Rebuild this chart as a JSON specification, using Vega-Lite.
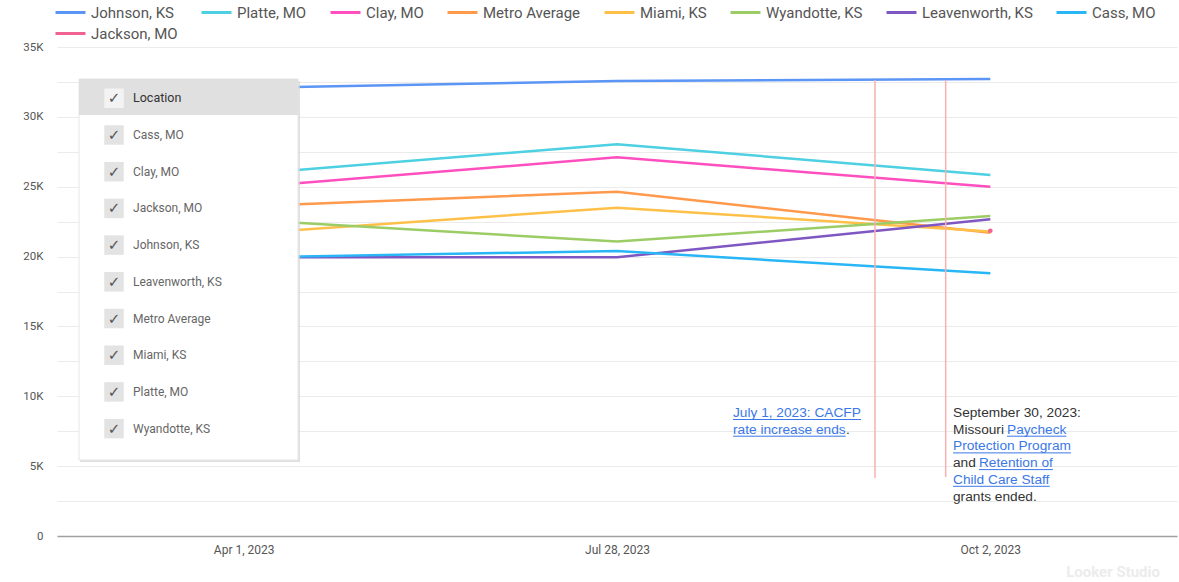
{
  "$schema": "https://vega.github.io/schema/vega-lite/v6.json",
  "width": 1120,
  "height": 489,
  "autosize": "none",
  "padding": {"left": 57, "top": 47, "right": 2, "bottom": 46},
  "background": "white",
  "config": {"view": {"stroke": null}, "font": "Roboto"},
  "datasets": {
    "series": [
      {"loc": "Johnson, KS", "date": "Apr 1, 2023", "v": 32070},
      {"loc": "Johnson, KS", "date": "Jul 28, 2023", "v": 32570},
      {"loc": "Johnson, KS", "date": "Oct 2, 2023", "v": 32710},
      {"loc": "Platte, MO", "date": "Apr 1, 2023", "v": 25890},
      {"loc": "Platte, MO", "date": "Jul 28, 2023", "v": 28040},
      {"loc": "Platte, MO", "date": "Oct 2, 2023", "v": 25840},
      {"loc": "Clay, MO", "date": "Apr 1, 2023", "v": 24930},
      {"loc": "Clay, MO", "date": "Jul 28, 2023", "v": 27100},
      {"loc": "Clay, MO", "date": "Oct 2, 2023", "v": 25000},
      {"loc": "Metro Average", "date": "Apr 1, 2023", "v": 23590},
      {"loc": "Metro Average", "date": "Jul 28, 2023", "v": 24640},
      {"loc": "Metro Average", "date": "Oct 2, 2023", "v": 21700},
      {"loc": "Miami, KS", "date": "Apr 1, 2023", "v": 21630},
      {"loc": "Miami, KS", "date": "Jul 28, 2023", "v": 23500},
      {"loc": "Miami, KS", "date": "Oct 2, 2023", "v": 21800},
      {"loc": "Wyandotte, KS", "date": "Apr 1, 2023", "v": 22650},
      {"loc": "Wyandotte, KS", "date": "Jul 28, 2023", "v": 21070},
      {"loc": "Wyandotte, KS", "date": "Oct 2, 2023", "v": 22900},
      {"loc": "Leavenworth, KS", "date": "Apr 1, 2023", "v": 19950},
      {"loc": "Leavenworth, KS", "date": "Jul 28, 2023", "v": 19950},
      {"loc": "Leavenworth, KS", "date": "Oct 2, 2023", "v": 22670},
      {"loc": "Cass, MO", "date": "Apr 1, 2023", "v": 19930},
      {"loc": "Cass, MO", "date": "Jul 28, 2023", "v": 20400},
      {"loc": "Cass, MO", "date": "Oct 2, 2023", "v": 18800},
      {"loc": "Jackson, MO", "date": "Oct 2, 2023", "v": 21850}
    ],
    "items": [
      {"item": "Location"},
      {"item": "Cass, MO"},
      {"item": "Clay, MO"},
      {"item": "Jackson, MO"},
      {"item": "Johnson, KS"},
      {"item": "Leavenworth, KS"},
      {"item": "Metro Average"},
      {"item": "Miami, KS"},
      {"item": "Platte, MO"},
      {"item": "Wyandotte, KS"}
    ],
    "notes": [
      {"note": "jul", "seg": "a", "line": 0, "text": "July 1, 2023: CACFP", "kind": "link"},
      {"note": "jul", "seg": "a", "line": 1, "text": "rate increase ends", "kind": "link"},
      {"note": "jul", "seg": "b", "line": 1, "text": ".", "kind": "plain"},
      {"note": "sep", "seg": "a", "line": 0, "text": "September 30, 2023:", "kind": "plain"},
      {"note": "sep", "seg": "a", "line": 1, "text": "Missouri", "kind": "plain"},
      {"note": "sep", "seg": "b", "line": 1, "text": "Paycheck", "kind": "link"},
      {"note": "sep", "seg": "a", "line": 2, "text": "Protection Program", "kind": "link"},
      {"note": "sep", "seg": "a", "line": 3, "text": "and", "kind": "plain"},
      {"note": "sep", "seg": "c", "line": 3, "text": "Retention of", "kind": "link"},
      {"note": "sep", "seg": "a", "line": 4, "text": "Child Care Staff", "kind": "link"},
      {"note": "sep", "seg": "a", "line": 5, "text": "grants ended.", "kind": "plain"}
    ]
  },
  "layer": [
    {
      "data": {"name": "series"},
      "mark": {"type": "line", "strokeWidth": 2.5},
      "encoding": {
        "x": {"field": "date", "type": "ordinal", "sort": ["Apr 1, 2023", "Jul 28, 2023", "Oct 2, 2023"],
              "scale": {"type": "point", "padding": 0.5},
              "axis": {"title": null, "labelAngle": 0, "ticks": false, "grid": false, "domainColor": "#a0a0a0", "domainWidth": 1.5, "labelFontSize": 12, "labelColor": "#555555", "labelPadding": 8}},
        "y": {"field": "v", "type": "quantitative", "scale": {"domain": [0, 35000], "nice": false},
              "axis": {"title": null, "values": [0, 2500, 5000, 7500, 10000, 12500, 15000, 17500, 20000, 22500, 25000, 27500, 30000, 32500, 35000],
                       "labelExpr": "datum.value % 5000 === 0 ? (datum.value === 0 ? '0' : (datum.value / 1000) + 'K') : ''",
                       "ticks": false, "domain": false, "gridColor": "#ebebeb", "labelFontSize": 11.5, "labelColor": "#555555", "labelPadding": 14}},
        "color": {"field": "loc", "type": "nominal",
                  "scale": {"domain": ["Johnson, KS", "Platte, MO", "Clay, MO", "Metro Average", "Miami, KS", "Wyandotte, KS", "Leavenworth, KS", "Cass, MO", "Jackson, MO"],
                            "range": ["#5b95f5", "#4dd0e1", "#ff4fbf", "#ff9a4d", "#ffc04a", "#9ccc65", "#7e57c2", "#29b6f6", "#f06292"]},
                  "legend": {"orient": "none", "legendX": -3, "legendY": -51, "direction": "horizontal", "columns": 8, "gridAlign": "none",
                             "title": null, "symbolType": "stroke", "symbolSize": 900, "symbolStrokeWidth": 3,
                             "labelFontSize": 15, "labelColor": "#555555", "columnPadding": 17, "rowPadding": -4, "labelOffset": 4}}
      }
    },
    {
      "data": {"name": "series"},
      "transform": [{"filter": "datum.loc === 'Jackson, MO'"}],
      "mark": {"type": "circle", "size": 22, "opacity": 1},
      "encoding": {
        "x": {"field": "date", "type": "ordinal", "sort": ["Apr 1, 2023", "Jul 28, 2023", "Oct 2, 2023"], "scale": {"type": "point", "padding": 0.5, "domain": ["Apr 1, 2023", "Jul 28, 2023", "Oct 2, 2023"]}, "axis": null},
        "y": {"field": "v", "type": "quantitative", "scale": {"domain": [0, 35000], "nice": false}, "axis": null},
        "color": {"field": "loc", "type": "nominal", "scale": {"domain": ["Jackson, MO"], "range": ["#f06292"]}, "legend": null}
      }
    },
    {
      "data": {"values": [{}]},
      "mark": {"type": "rect", "fill": "#d4d4d4", "opacity": 0.7},
      "encoding": {
        "x": {"datum": 0.0616, "type": "quantitative", "scale": {"domain": [0, 3], "nice": false, "zero": false}, "axis": null},
        "x2": {"datum": 0.6510},
        "y": {"datum": 32567, "type": "quantitative", "scale": {"domain": [0, 35000], "nice": false}, "axis": null},
        "y2": {"datum": 5297}
      }
    },
    {
      "data": {"values": [{}]},
      "mark": {"type": "rect", "fill": "#ffffff", "stroke": "#e6e6e6", "strokeWidth": 1},
      "encoding": {
        "x": {"datum": 0.059, "type": "quantitative", "scale": {"domain": [0, 3], "nice": false, "zero": false}, "axis": null},
        "x2": {"datum": 0.6456},
        "y": {"datum": 32710, "type": "quantitative", "scale": {"domain": [0, 35000], "nice": false}, "axis": null},
        "y2": {"datum": 5440}
      }
    },
    {
      "data": {"values": [{}]},
      "mark": {"type": "rect", "fill": "#e0e0e0"},
      "encoding": {
        "x": {"datum": 0.059, "type": "quantitative", "scale": {"domain": [0, 3], "nice": false, "zero": false}, "axis": null},
        "x2": {"datum": 0.6456},
        "y": {"datum": 32710, "type": "quantitative", "scale": {"domain": [0, 35000], "nice": false}, "axis": null},
        "y2": {"datum": 30133}
      }
    },
    {
      "data": {"name": "items"},
      "transform": [{"window": [{"op": "row_number", "as": "r"}]}],
      "mark": {"type": "point", "shape": "square", "filled": true, "size": 380, "strokeWidth": 0, "opacity": 1},
      "encoding": {
        "x": {"datum": 0.1527, "type": "quantitative", "scale": {"domain": [0, 3], "nice": false, "zero": false}, "axis": null},
        "y": {"field": "r", "type": "quantitative", "scale": {"domain": [-0.398, 12.926], "reverse": true, "nice": false, "zero": false}, "axis": null},
        "color": {"condition": {"test": "datum.r === 1", "value": "#f3f3f3"}, "value": "#e3e3e3"}
      }
    },
    {
      "data": {"name": "items"},
      "transform": [{"window": [{"op": "row_number", "as": "r"}]}],
      "mark": {"type": "text", "align": "center", "baseline": "middle", "font": "DejaVu Sans", "fontSize": 15},
      "encoding": {
        "x": {"datum": 0.1527, "type": "quantitative", "scale": {"domain": [0, 3], "nice": false, "zero": false}, "axis": null},
        "y": {"field": "r", "type": "quantitative", "scale": {"domain": [-0.398, 12.926], "reverse": true, "nice": false, "zero": false}, "axis": null},
        "text": {"value": "✓"},
        "color": {"value": "#555555"}
      }
    },
    {
      "data": {"name": "items"},
      "transform": [{"window": [{"op": "row_number", "as": "r"}]}],
      "mark": {"type": "text", "align": "left", "baseline": "middle"},
      "encoding": {
        "x": {"datum": 0.2036, "type": "quantitative", "scale": {"domain": [0, 3], "nice": false, "zero": false}, "axis": null},
        "y": {"field": "r", "type": "quantitative", "scale": {"domain": [-0.398, 12.926], "reverse": true, "nice": false, "zero": false}, "axis": null},
        "text": {"field": "item"},
        "size": {"condition": {"test": "datum.r === 1", "value": 12.5}, "value": 12},
        "fontWeight": {"condition": {"test": "datum.r === 1", "value": "bold"}, "value": "normal"},
        "color": {"condition": {"test": "datum.r === 1", "value": "#333333"}, "value": "#666666"}
      }
    },
    {
      "data": {"values": [{}]},
      "mark": {"type": "rule", "color": "#f6b0b0", "strokeWidth": 1.5},
      "encoding": {
        "x": {"datum": 2.1911, "type": "quantitative", "scale": {"domain": [0, 3], "nice": false, "zero": false}, "axis": null},
        "y": {"datum": 32638, "type": "quantitative", "scale": {"domain": [0, 35000], "nice": false}, "axis": null},
        "y2": {"datum": 4151}
      }
    },
    {
      "data": {"values": [{}]},
      "mark": {"type": "rule", "color": "#f6b0b0", "strokeWidth": 1.5},
      "encoding": {
        "x": {"datum": 2.3804, "type": "quantitative", "scale": {"domain": [0, 3], "nice": false, "zero": false}, "axis": null},
        "y": {"datum": 32638, "type": "quantitative", "scale": {"domain": [0, 35000], "nice": false}, "axis": null},
        "y2": {"datum": 4223}
      }
    },
    {
      "data": {"name": "notes"},
      "transform": [{"filter": "datum.note === 'jul' && datum.seg === 'a'"}],
      "mark": {"type": "text", "align": "left", "baseline": "middle", "font": "Liberation Sans", "fontSize": 13.7},
      "encoding": {
        "x": {"datum": 1.8107, "type": "quantitative", "scale": {"domain": [0, 3], "nice": false, "zero": false}, "axis": null},
        "y": {"field": "line", "type": "quantitative", "scale": {"domain": [-21.916, 7.365], "reverse": true, "nice": false, "zero": false}, "axis": null},
        "text": {"field": "text"},
        "color": {"field": "kind", "type": "nominal", "scale": {"domain": ["plain", "link"], "range": ["#333333", "#3b78e7"]}, "legend": null}
      }
    },
    {
      "data": {"name": "notes"},
      "transform": [{"filter": "datum.note === 'jul' && datum.seg === 'b'"}],
      "mark": {"type": "text", "align": "left", "baseline": "middle", "font": "Liberation Sans", "fontSize": 13.7},
      "encoding": {
        "x": {"datum": 2.1134, "type": "quantitative", "scale": {"domain": [0, 3], "nice": false, "zero": false}, "axis": null},
        "y": {"field": "line", "type": "quantitative", "scale": {"domain": [-21.916, 7.365], "reverse": true, "nice": false, "zero": false}, "axis": null},
        "text": {"field": "text"},
        "color": {"field": "kind", "type": "nominal", "scale": {"domain": ["plain", "link"], "range": ["#333333", "#3b78e7"]}, "legend": null}
      }
    },
    {
      "data": {"name": "notes"},
      "transform": [{"filter": "datum.note === 'sep' && datum.seg === 'a'"}],
      "mark": {"type": "text", "align": "left", "baseline": "middle", "font": "Liberation Sans", "fontSize": 13.7},
      "encoding": {
        "x": {"datum": 2.4, "type": "quantitative", "scale": {"domain": [0, 3], "nice": false, "zero": false}, "axis": null},
        "y": {"field": "line", "type": "quantitative", "scale": {"domain": [-21.916, 7.365], "reverse": true, "nice": false, "zero": false}, "axis": null},
        "text": {"field": "text"},
        "color": {"field": "kind", "type": "nominal", "scale": {"domain": ["plain", "link"], "range": ["#333333", "#3b78e7"]}, "legend": null}
      }
    },
    {
      "data": {"name": "notes"},
      "transform": [{"filter": "datum.note === 'sep' && datum.seg === 'b'"}],
      "mark": {"type": "text", "align": "left", "baseline": "middle", "font": "Liberation Sans", "fontSize": 13.7},
      "encoding": {
        "x": {"datum": 2.5447, "type": "quantitative", "scale": {"domain": [0, 3], "nice": false, "zero": false}, "axis": null},
        "y": {"field": "line", "type": "quantitative", "scale": {"domain": [-21.916, 7.365], "reverse": true, "nice": false, "zero": false}, "axis": null},
        "text": {"field": "text"},
        "color": {"field": "kind", "type": "nominal", "scale": {"domain": ["plain", "link"], "range": ["#333333", "#3b78e7"]}, "legend": null}
      }
    },
    {
      "data": {"name": "notes"},
      "transform": [{"filter": "datum.note === 'sep' && datum.seg === 'c'"}],
      "mark": {"type": "text", "align": "left", "baseline": "middle", "font": "Liberation Sans", "fontSize": 13.7},
      "encoding": {
        "x": {"datum": 2.4696, "type": "quantitative", "scale": {"domain": [0, 3], "nice": false, "zero": false}, "axis": null},
        "y": {"field": "line", "type": "quantitative", "scale": {"domain": [-21.916, 7.365], "reverse": true, "nice": false, "zero": false}, "axis": null},
        "text": {"field": "text"},
        "color": {"field": "kind", "type": "nominal", "scale": {"domain": ["plain", "link"], "range": ["#333333", "#3b78e7"]}, "legend": null}
      }
    },
    {
      "data": {"values": [{}]},
      "mark": {"type": "rule", "color": "#3b78e7", "strokeWidth": 1, "yOffset": 6.5},
      "encoding": {
        "x": {"datum": 1.8107, "type": "quantitative", "scale": {"domain": [0, 3], "nice": false, "zero": false}, "axis": null},
        "x2": {"datum": 2.1536},
        "y": {"datum": 0, "type": "quantitative", "scale": {"domain": [-21.916, 7.365], "reverse": true, "nice": false, "zero": false}, "axis": null}
      }
    },
    {
      "data": {"values": [{}]},
      "mark": {"type": "rule", "color": "#3b78e7", "strokeWidth": 1, "yOffset": 6.5},
      "encoding": {
        "x": {"datum": 1.8107, "type": "quantitative", "scale": {"domain": [0, 3], "nice": false, "zero": false}, "axis": null},
        "x2": {"datum": 2.1126},
        "y": {"datum": 1, "type": "quantitative", "scale": {"domain": [-21.916, 7.365], "reverse": true, "nice": false, "zero": false}, "axis": null}
      }
    },
    {
      "data": {"values": [{}]},
      "mark": {"type": "rule", "color": "#3b78e7", "strokeWidth": 1, "yOffset": 6.5},
      "encoding": {
        "x": {"datum": 2.5447, "type": "quantitative", "scale": {"domain": [0, 3], "nice": false, "zero": false}, "axis": null},
        "x2": {"datum": 2.7038},
        "y": {"datum": 1, "type": "quantitative", "scale": {"domain": [-21.916, 7.365], "reverse": true, "nice": false, "zero": false}, "axis": null}
      }
    },
    {
      "data": {"values": [{}]},
      "mark": {"type": "rule", "color": "#3b78e7", "strokeWidth": 1, "yOffset": 6.5},
      "encoding": {
        "x": {"datum": 2.4, "type": "quantitative", "scale": {"domain": [0, 3], "nice": false, "zero": false}, "axis": null},
        "x2": {"datum": 2.7161},
        "y": {"datum": 2, "type": "quantitative", "scale": {"domain": [-21.916, 7.365], "reverse": true, "nice": false, "zero": false}, "axis": null}
      }
    },
    {
      "data": {"values": [{}]},
      "mark": {"type": "rule", "color": "#3b78e7", "strokeWidth": 1, "yOffset": 6.5},
      "encoding": {
        "x": {"datum": 2.4696, "type": "quantitative", "scale": {"domain": [0, 3], "nice": false, "zero": false}, "axis": null},
        "x2": {"datum": 2.6676},
        "y": {"datum": 3, "type": "quantitative", "scale": {"domain": [-21.916, 7.365], "reverse": true, "nice": false, "zero": false}, "axis": null}
      }
    },
    {
      "data": {"values": [{}]},
      "mark": {"type": "rule", "color": "#3b78e7", "strokeWidth": 1, "yOffset": 6.5},
      "encoding": {
        "x": {"datum": 2.4, "type": "quantitative", "scale": {"domain": [0, 3], "nice": false, "zero": false}, "axis": null},
        "x2": {"datum": 2.659},
        "y": {"datum": 4, "type": "quantitative", "scale": {"domain": [-21.916, 7.365], "reverse": true, "nice": false, "zero": false}, "axis": null}
      }
    },
    {
      "data": {"values": [{}]},
      "mark": {"type": "text", "align": "right", "baseline": "middle", "fontSize": 15, "fontWeight": "bold", "color": "#ececec"},
      "encoding": {
        "x": {"datum": 2.9545, "type": "quantitative", "scale": {"domain": [0, 3], "nice": false, "zero": false}, "axis": null},
        "y": {"datum": -2577, "type": "quantitative", "scale": {"domain": [0, 35000], "nice": false}, "axis": null},
        "text": {"value": "Looker Studio"}
      }
    }
  ],
  "resolve": {"scale": {"x": "independent", "y": "independent", "color": "independent"}}
}
